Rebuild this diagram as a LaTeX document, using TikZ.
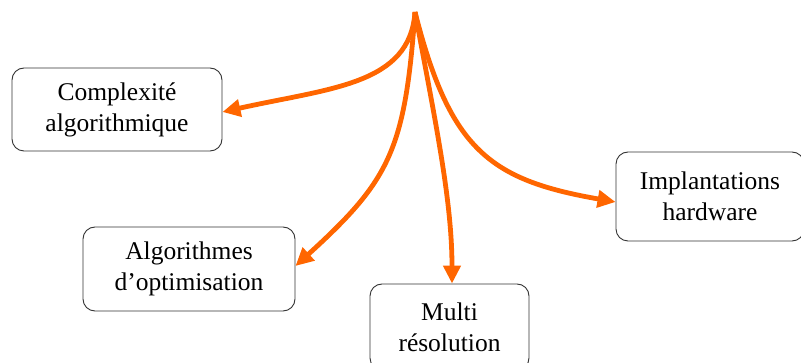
\documentclass[tikz,border=0pt]{standalone}
\usepackage{fontspec}
\setmainfont{Liberation Serif}
\usetikzlibrary{arrows.meta}
\definecolor{arr}{HTML}{FF6600}
\definecolor{bord}{HTML}{333333}
\begin{document}
\begin{tikzpicture}[x=1pt,y=-1pt,
  box/.style={draw=bord,line width=0.9pt,rounded corners=12pt,align=center,
    font=\fontsize{25.5}{31}\selectfont,inner sep=0pt},
  conn/.style={draw=arr,line width=4.8pt,-{Triangle[length=18pt,width=17pt]}}]
\useasboundingbox (0,0) rectangle (801,363);
\coordinate (top) at (415,12);
\node[box,minimum width=210pt,minimum height=83pt] (c) at (117,109.5) {Complexité\\algorithmique};
\node[box,minimum width=212pt,minimum height=84pt] (a) at (189,269) {Algorithmes\\d’optimisation};
\node[box,minimum width=159pt,minimum height=86pt] (m) at (449.5,327) {Multi\\résolution};
\node[box,minimum width=188pt,minimum height=89pt] (i) at (710,196.5) {Implantations\\hardware};
\draw[conn] (top) .. controls (410,85) and (330,88) .. (c.east |- 0,112);
\draw[conn] (top) .. controls (405,150) and (390,180) .. (a.east |- 0,266);
\draw[conn] (top) .. controls (435,120) and (452,200) .. (m.north -| 452,0);
\draw[conn] (top) .. controls (450,150) and (490,180) .. (i.west |- 0,202);
\end{tikzpicture}
\end{document}
